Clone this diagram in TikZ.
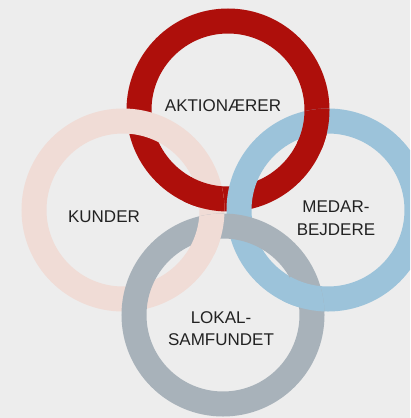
\documentclass[tikz,border=0pt]{standalone}
\usepackage{fontspec}
\setmainfont{Liberation Sans}
\definecolor{bg}{HTML}{EDEDED}
\definecolor{cred}{HTML}{AE0F0B}
\definecolor{cpink}{HTML}{F0DCD6}
\definecolor{cblue}{HTML}{9CC3DA}
\definecolor{cgray}{HTML}{A8B2BA}
\definecolor{txt}{HTML}{222222}
\begin{document}
\begin{tikzpicture}[x=1pt,y=-1pt,
  ring/.style={line width=25pt, draw=#1},
  lbl/.style={text=txt, font=\fontsize{17}{22.5}\selectfont, align=center, inner sep=0pt}]
\fill[bg] (0,0) rectangle (410,418);
\useasboundingbox (0,0) rectangle (410,418);
\clip (0,0) rectangle (410,418);
\coordinate (R) at (228,110);
\coordinate (P) at (123,210);
\coordinate (B) at (328,210);
\coordinate (G) at (223,315);
\coordinate (xRP) at (211,197);
\coordinate (xRB) at (316,122);
\coordinate (xPG) at (210,227);
\coordinate (xBG) at (310,297);
% base order
\draw[ring=cred] (R) circle[radius=89];
\draw[ring=cpink] (P) circle[radius=89];
\draw[ring=cblue] (B) circle[radius=89];
\draw[ring=cgray] (G) circle[radius=89];
% interlocking fixes
\begin{scope}
\clip (P) circle[radius=101.5];
\clip (xRP) circle[radius=28];
\draw[ring=cred] (R) circle[radius=89];
\end{scope}
\begin{scope}
\clip (B) circle[radius=101.5];
\clip (xRB) circle[radius=28];
\draw[ring=cred] (R) circle[radius=89];
\end{scope}
\begin{scope}
\clip (G) circle[radius=101.5];
\clip (xPG) circle[radius=28];
\draw[ring=cpink] (P) circle[radius=89];
\end{scope}
\begin{scope}
\clip (G) circle[radius=101.5];
\clip (xBG) circle[radius=28];
\draw[ring=cblue] (B) circle[radius=89];
\end{scope}
% labels
\node[lbl] (akt) at (223,105.5) {AKTIONÆRER};
\node[lbl] (kun) at (104,216.5) {KUNDER};
\node[lbl] (med) at (336,218) {MEDAR-\\BEJDERE};
\node[lbl] (lok) at (221,328.5) {LOKAL-\\SAMFUNDET};
\end{tikzpicture}
\end{document}
